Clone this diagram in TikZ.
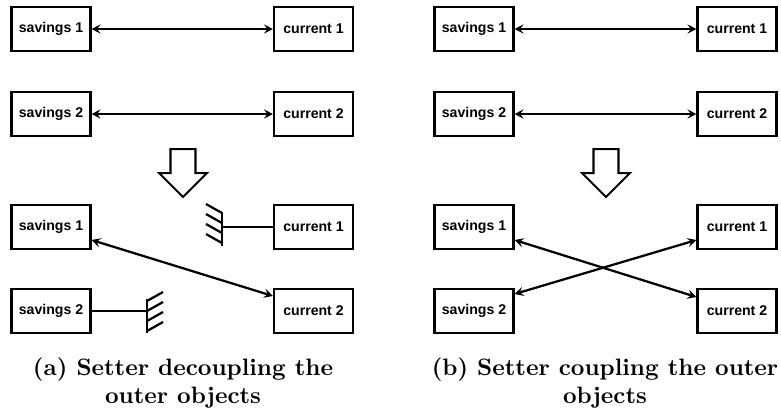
\documentclass[tikz,border=0pt]{standalone}
\usepackage{fontspec}
\newfontfamily\boxfont{Liberation Sans}
\usetikzlibrary{arrows.meta,calc}

\begin{document}
\begin{tikzpicture}[x=0.4219pt,y=-0.4219pt,
  acct/.style={draw,line width=0.95pt,minimum width=33.3pt,minimum height=18.4pt,
    inner sep=0pt,font=\boxfont\bfseries\fontsize{5.95}{7}\selectfont},
  tip/.tip={Stealth[length=3.8pt,width=3.9pt,inset=1.5pt]},
  link/.style={line width=0.95pt,tip-tip},
  wire/.style={line width=0.95pt,line cap=butt},
  bigarrow/.style={line width=0.85pt,line join=miter},
  caption/.style={font=\bfseries,anchor=base,inner sep=0pt}]
\useasboundingbox (0,0) rectangle (781,411);

% (a) before the setter
\node[acct] (a-s1) at (51,29) {savings 1};
\node[acct] (a-c1) at (313.5,29) {current 1};
\node[acct] (a-s2) at (51,114) {savings 2};
\node[acct] (a-c2) at (313.5,114) {current 2};
\draw[link] (a-s1) -- (a-c1);
\draw[link] (a-s2) -- (a-c2);

% (b) before the setter
\node[acct] (b-s1) at (474,29) {savings 1};
\node[acct] (b-c1) at (737,29) {current 1};
\node[acct] (b-s2) at (474,114) {savings 2};
\node[acct] (b-c2) at (737,114) {current 2};
\draw[link] (b-s1) -- (b-c1);
\draw[link] (b-s2) -- (b-c2);

% hollow transition arrows
\foreach \c in {183,606}
  \draw[bigarrow] ({\c-12.5},149) -- ({\c+12.5},149) -- ({\c+12.5},173)
    -- ({\c+24},173) -- (\c,197) -- ({\c-24},173) -- ({\c-12.5},173) -- cycle;

% (a) after the setter: outer objects decoupled
\node[acct] (a-s1b) at (51,227) {savings 1};
\node[acct] (a-c1b) at (313.5,227) {current 1};
\node[acct] (a-s2b) at (51,311) {savings 2};
\node[acct] (a-c2b) at (313.5,311) {current 2};
\draw[link] ($(a-s1b.east)+(0,13)$) -- ($(a-c2b.west)+(0,-15)$);

% grounded ends
\coordinate (a-w1) at (222,227);
\draw[wire] (a-c1b.west) -- (a-w1);
\draw[wire] (222,212) -- (222,246);
\foreach \k in {0,...,3}
  \draw[wire] (222,{213+10*\k}) -- (206,{204+10*\k});
\coordinate (a-w2) at (147,311);
\draw[wire] (a-s2b.east) -- (a-w2);
\draw[wire] (147,299) -- (147,333);
\foreach \k in {0,...,3}
  \draw[wire] (147,{301+10*\k}) -- (163,{292+10*\k});

% (b) after the setter: outer objects coupled crosswise
\node[acct] (b-s1b) at (474,227) {savings 1};
\node[acct] (b-c1b) at (737,227) {current 1};
\node[acct] (b-s2b) at (474,311) {savings 2};
\node[acct] (b-c2b) at (737,311) {current 2};
\draw[link] ($(b-s1b.east)+(0,13)$) -- ($(b-c2b.west)+(0,-14)$);
\draw[link] ($(b-s2b.east)+(0,-17)$) -- ($(b-c1b.west)+(0,13)$);

% captions
\node[caption] (cap-a1) at (183,375) {(a) Setter decoupling the};
\node[caption] (cap-a2) at (183,403) {outer objects};
\node[caption] (cap-b1) at (605,375) {(b) Setter coupling the outer};
\node[caption] (cap-b2) at (605,403) {objects};
\end{tikzpicture}
\end{document}
